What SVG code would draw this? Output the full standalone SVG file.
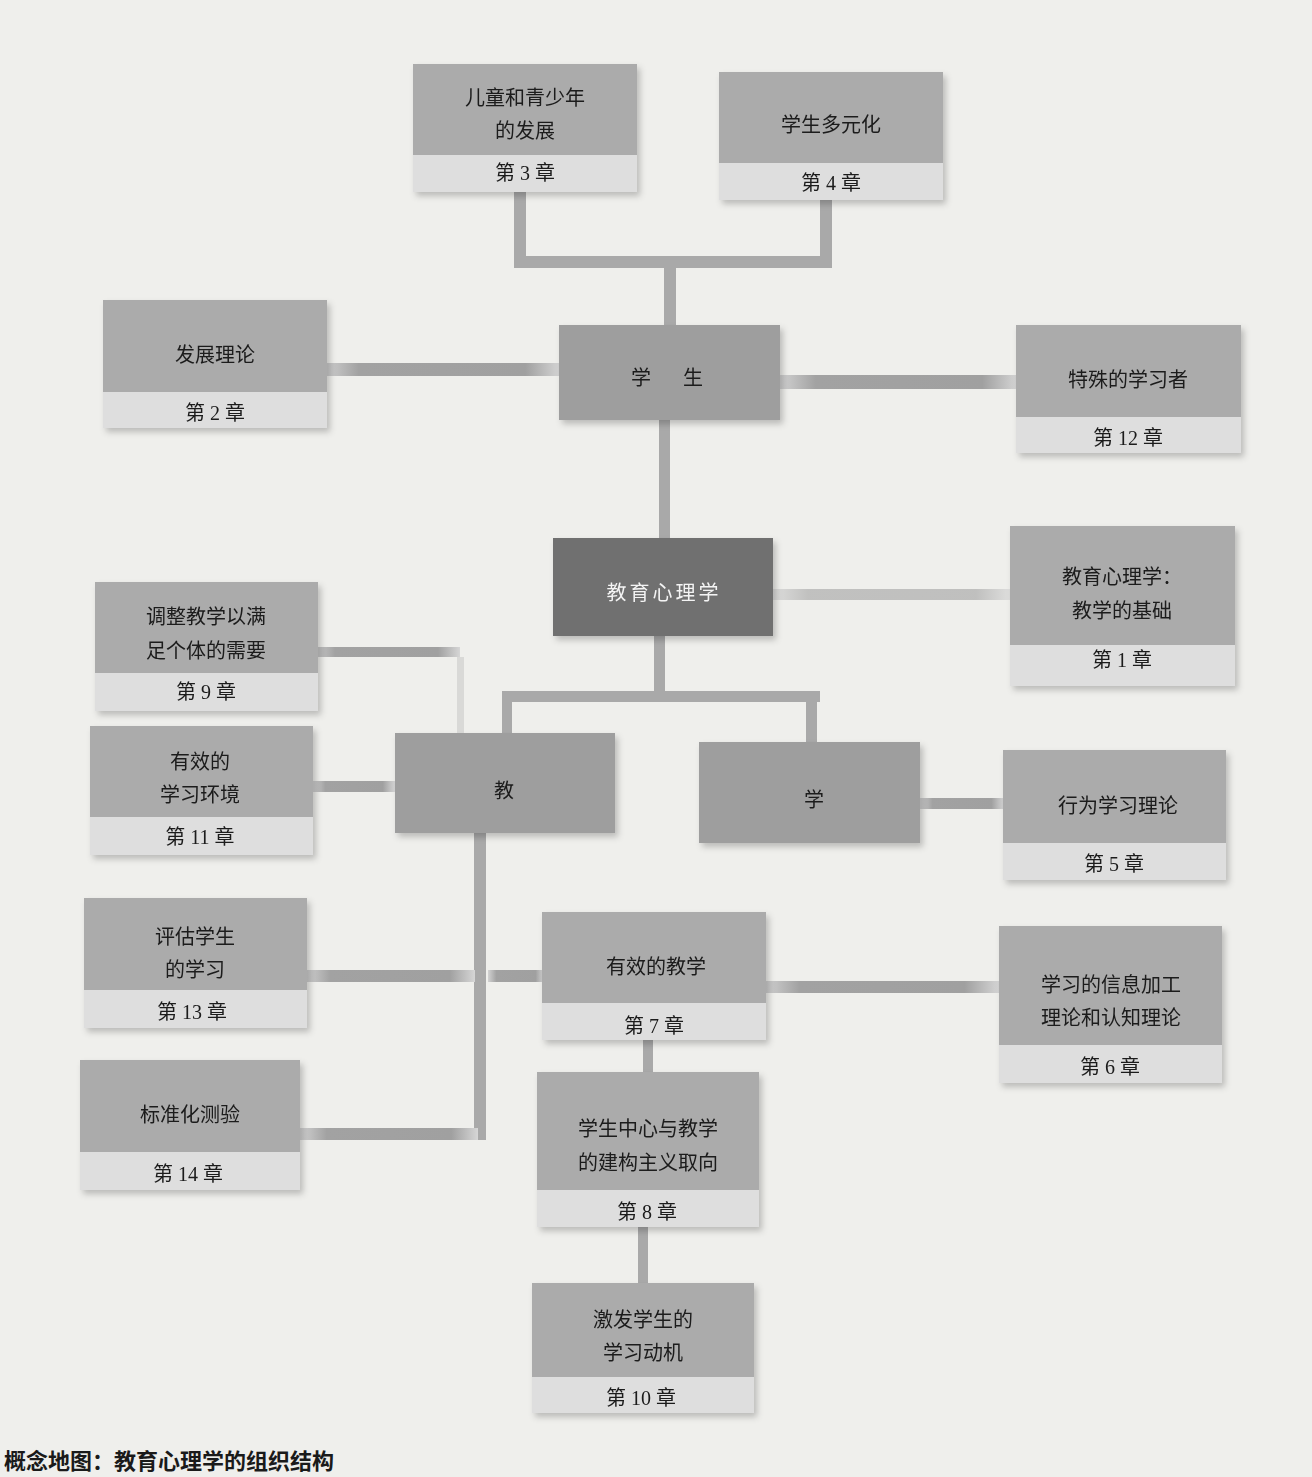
<svg xmlns="http://www.w3.org/2000/svg" width="1312" height="1477" viewBox="0 0 1312 1477">
<defs>
<style>
.bg{fill:#efefec}
.box{fill:#ababab}
.hub{fill:#9e9e9e}
.core{fill:#6f6f6f}
.band{fill:#dedede}
.t{font-family:"Liberation Serif","Noto Sans CJK SC",serif;font-size:20px;fill:#1a1a1a;text-anchor:middle}
.tw{font-family:"Noto Sans CJK SC",sans-serif;font-size:20px;fill:#f4f4f4;text-anchor:middle;letter-spacing:3px}
.cap{font-family:"Noto Sans CJK SC",sans-serif;font-size:22px;font-weight:bold;fill:#1a1a1a}
.v{fill:#a9a9a9}
.h{fill:url(#hg)}
.faint{fill:#c9c9c9;opacity:0.6}
</style>
<linearGradient id="hg" x1="0" y1="0" x2="1" y2="0">
<stop offset="0" stop-color="#d2d2d2"/>
<stop offset="0.15" stop-color="#a2a2a2"/>
<stop offset="0.85" stop-color="#a0a0a0"/>
<stop offset="1" stop-color="#d6d6d6"/>
</linearGradient>
<filter id="sh" x="-10%" y="-10%" width="125%" height="130%">
<feDropShadow dx="3" dy="4" stdDeviation="3" flood-color="#000" flood-opacity="0.22"/>
</filter>
</defs>
<rect class="bg" x="0" y="0" width="1312" height="1477"/>

<g id="connectors">
<rect class="v" x="514" y="190" width="12" height="78"/>
<rect class="v" x="820" y="198" width="12" height="70"/>
<rect class="v" x="514" y="256" width="318" height="12"/>
<rect class="v" x="664" y="268" width="12" height="58"/>
<rect class="h" x="323" y="363" width="238" height="13"/>
<rect class="h" x="780" y="375" width="238" height="14"/>
<rect class="v" x="659" y="418" width="11" height="122"/>
<rect class="h" x="772" y="589" width="240" height="11" opacity="0.6"/>
<rect class="v" x="654" y="634" width="11" height="68"/>
<rect class="v" x="502" y="691" width="318" height="11"/>
<rect class="v" x="502" y="691" width="10" height="44"/>
<rect class="v" x="806" y="691" width="11" height="53"/>
<rect class="h" x="313" y="647" width="147" height="10"/>
<rect class="faint" x="457" y="657" width="7" height="76"/>
<rect class="h" x="313" y="781" width="82" height="11"/>
<rect class="v" x="474" y="831" width="12" height="309"/>
<rect class="h" x="305" y="970" width="170" height="12"/>
<rect class="h" x="488" y="970" width="56" height="12"/>
<rect class="h" x="300" y="1128" width="178" height="12"/>
<rect class="h" x="920" y="798" width="84" height="11"/>
<rect class="h" x="764" y="981" width="236" height="12"/>
<rect class="v" x="643" y="1038" width="10" height="35"/>
<rect class="v" x="638" y="1225" width="10" height="59"/>
</g>

<g id="n3" filter="url(#sh)">
<rect class="box" x="413" y="64" width="224" height="128"/>
<rect class="band" x="413" y="155" width="224" height="37"/>
<text class="t" x="525" y="105">儿童和青少年</text>
<text class="t" x="525" y="138">的发展</text>
<text class="t" x="525" y="180">第 3 章</text>
</g>
<g id="n4" filter="url(#sh)">
<rect class="box" x="719" y="72" width="224" height="128"/>
<rect class="band" x="719" y="163" width="224" height="37"/>
<text class="t" x="831" y="132">学生多元化</text>
<text class="t" x="831" y="190">第 4 章</text>
</g>
<g id="n2" filter="url(#sh)">
<rect class="box" x="103" y="300" width="224" height="128"/>
<rect class="band" x="103" y="392" width="224" height="36"/>
<text class="t" x="215" y="362">发展理论</text>
<text class="t" x="215" y="420">第 2 章</text>
</g>
<g id="student" filter="url(#sh)">
<rect class="hub" x="559" y="325" width="221" height="95"/>
<text class="t" x="670" y="385" style="letter-spacing:6px">学　生</text>
</g>
<g id="n12" filter="url(#sh)">
<rect class="box" x="1016" y="325" width="225" height="128"/>
<rect class="band" x="1016" y="417" width="225" height="36"/>
<text class="t" x="1128" y="387">特殊的学习者</text>
<text class="t" x="1128" y="445">第 12 章</text>
</g>
<g id="center" filter="url(#sh)">
<rect class="core" x="553" y="538" width="220" height="98"/>
<text class="tw" x="664" y="600">教育心理学</text>
</g>
<g id="n1" filter="url(#sh)">
<rect class="box" x="1010" y="526" width="225" height="160"/>
<rect class="band" x="1010" y="645" width="225" height="41"/>
<text class="t" x="1122" y="584">教育心理学：</text>
<text class="t" x="1122" y="618">教学的基础</text>
<text class="t" x="1122" y="667">第 1 章</text>
</g>
<g id="n9" filter="url(#sh)">
<rect class="box" x="95" y="582" width="223" height="129"/>
<rect class="band" x="95" y="673" width="223" height="38"/>
<text class="t" x="206" y="624">调整教学以满</text>
<text class="t" x="206" y="658">足个体的需要</text>
<text class="t" x="206" y="699">第 9 章</text>
</g>
<g id="n11" filter="url(#sh)">
<rect class="box" x="90" y="726" width="223" height="129"/>
<rect class="band" x="90" y="817" width="223" height="38"/>
<text class="t" x="200" y="769">有效的</text>
<text class="t" x="200" y="802">学习环境</text>
<text class="t" x="200" y="844">第 11 章</text>
</g>
<g id="teach" filter="url(#sh)">
<rect class="hub" x="395" y="733" width="220" height="100"/>
<text class="t" x="504" y="798">教</text>
</g>
<g id="learn" filter="url(#sh)">
<rect class="hub" x="699" y="742" width="221" height="101"/>
<text class="t" x="814" y="807">学</text>
</g>
<g id="n5" filter="url(#sh)">
<rect class="box" x="1003" y="750" width="223" height="130"/>
<rect class="band" x="1003" y="843" width="223" height="37"/>
<text class="t" x="1118" y="813">行为学习理论</text>
<text class="t" x="1114" y="871">第 5 章</text>
</g>
<g id="n13" filter="url(#sh)">
<rect class="box" x="84" y="898" width="223" height="130"/>
<rect class="band" x="84" y="990" width="223" height="38"/>
<text class="t" x="195" y="944">评估学生</text>
<text class="t" x="195" y="977">的学习</text>
<text class="t" x="192" y="1019">第 13 章</text>
</g>
<g id="n7" filter="url(#sh)">
<rect class="box" x="542" y="912" width="224" height="128"/>
<rect class="band" x="542" y="1003" width="224" height="37"/>
<text class="t" x="656" y="974">有效的教学</text>
<text class="t" x="654" y="1033">第 7 章</text>
</g>
<g id="n6" filter="url(#sh)">
<rect class="box" x="999" y="926" width="223" height="157"/>
<rect class="band" x="999" y="1045" width="223" height="38"/>
<text class="t" x="1111" y="992">学习的信息加工</text>
<text class="t" x="1111" y="1025">理论和认知理论</text>
<text class="t" x="1110" y="1074">第 6 章</text>
</g>
<g id="n14" filter="url(#sh)">
<rect class="box" x="80" y="1060" width="220" height="130"/>
<rect class="band" x="80" y="1152" width="220" height="38"/>
<text class="t" x="190" y="1122">标准化测验</text>
<text class="t" x="188" y="1181">第 14 章</text>
</g>
<g id="n8" filter="url(#sh)">
<rect class="box" x="537" y="1072" width="222" height="155"/>
<rect class="band" x="537" y="1190" width="222" height="37"/>
<text class="t" x="648" y="1136">学生中心与教学</text>
<text class="t" x="648" y="1170">的建构主义取向</text>
<text class="t" x="647" y="1219">第 8 章</text>
</g>
<g id="n10" filter="url(#sh)">
<rect class="box" x="532" y="1283" width="222" height="130"/>
<rect class="band" x="532" y="1377" width="222" height="36"/>
<text class="t" x="643" y="1327">激发学生的</text>
<text class="t" x="643" y="1360">学习动机</text>
<text class="t" x="641" y="1405">第 10 章</text>
</g>

<text class="cap" x="4" y="1469">概念地图：教育心理学的组织结构</text>
</svg>
